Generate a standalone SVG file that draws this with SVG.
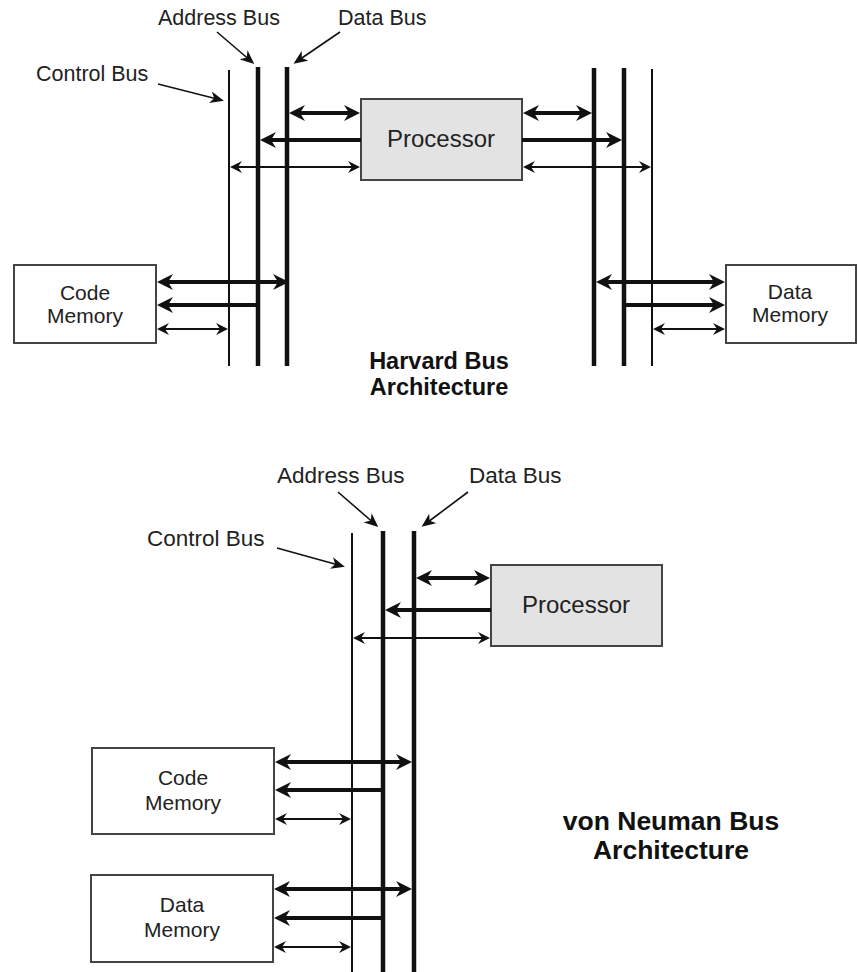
<svg xmlns="http://www.w3.org/2000/svg" width="858" height="972" viewBox="0 0 858 972">
<defs>
<marker id="ah" viewBox="0 0 16 16" refX="12" refY="8" markerWidth="16" markerHeight="16" markerUnits="userSpaceOnUse" orient="auto-start-reverse"><path d="M0,0 L16,8 L0,16 L5,8 z" fill="#111"/></marker>
<marker id="at" viewBox="0 0 12 12" refX="9" refY="6" markerWidth="12" markerHeight="12" markerUnits="userSpaceOnUse" orient="auto-start-reverse"><path d="M0,0 L12,6 L0,12 L4,6 z" fill="#111"/></marker>
<marker id="ac" viewBox="0 0 14 12" refX="11" refY="6" markerWidth="14" markerHeight="12" markerUnits="userSpaceOnUse" orient="auto"><path d="M0,0 L14,6 L0,12 L4,6 z" fill="#111"/></marker>
</defs>
<style>
.bus{stroke:#111;stroke-width:4.5;fill:none}
.busT{stroke:#111;stroke-width:2;fill:none}
.thick{stroke:#111;stroke-width:4;fill:none}
.thin{stroke:#111;stroke-width:2;fill:none}
.call{stroke:#111;stroke-width:1.6;fill:none;marker-end:url(#ac)}
.box{fill:#fff;stroke:#444;stroke-width:2}
.proc{fill:#e3e3e3;stroke:#444;stroke-width:2}
text{font-family:"Liberation Sans",Arial,sans-serif;fill:#222}
.lbl{font-size:21.5px}
.lbl2{font-size:22.5px}
.bt{font-size:21px;text-anchor:middle}
.pt{font-size:24px;text-anchor:middle}
.title{font-size:23.5px;font-weight:bold;text-anchor:middle;fill:#111}
.title2{font-size:26.5px;font-weight:bold;text-anchor:middle;fill:#111}
</style>
<rect width="858" height="972" fill="#fff"/>

<!-- Harvard -->
<g id="harvard-buses">
<line class="busT" x1="229" y1="70" x2="229" y2="366"/>
<line class="bus" x1="258" y1="67" x2="258" y2="366"/>
<line class="bus" x1="287" y1="67" x2="287" y2="366"/>
<line class="bus" x1="594" y1="68" x2="594" y2="366"/>
<line class="bus" x1="624" y1="68" x2="624" y2="366"/>
<line class="busT" x1="652" y1="69" x2="652" y2="366"/>
</g>
<g id="h-processor"><rect class="proc" x="361" y="99" width="161" height="81"/><text class="pt" x="441" y="147">Processor</text></g>
<g id="h-code-memory"><rect class="box" x="14" y="265" width="142" height="78"/><text class="bt" x="85" y="300">Code</text><text class="bt" x="85" y="323">Memory</text></g>
<g id="h-data-memory"><rect class="box" x="726" y="265" width="130" height="78"/><text class="bt" x="790" y="299">Data</text><text class="bt" x="790" y="322">Memory</text></g>
<g id="h-labels">
<text class="lbl" x="158" y="25">Address Bus</text>
<text class="lbl" x="338" y="25">Data Bus</text>
<text class="lbl" x="36" y="81">Control Bus</text>
<text class="title" x="439" y="369">Harvard Bus</text>
<text class="title" x="439" y="395">Architecture</text>
</g>

<!-- von Neuman -->
<g id="vn-buses">
<line class="busT" x1="352" y1="533" x2="352" y2="972"/>
<line class="bus" x1="383" y1="531" x2="383" y2="972"/>
<line class="bus" x1="414" y1="531" x2="414" y2="972"/>
</g>
<g id="vn-processor"><rect class="proc" x="491" y="565" width="171" height="81"/><text class="pt" x="576" y="613">Processor</text></g>
<g id="vn-code-memory"><rect class="box" x="92" y="748" width="182" height="86"/><text class="bt" x="183" y="785">Code</text><text class="bt" x="183" y="810">Memory</text></g>
<g id="vn-data-memory"><rect class="box" x="91" y="875" width="182" height="87"/><text class="bt" x="182" y="912">Data</text><text class="bt" x="182" y="937">Memory</text></g>
<g id="vn-labels">
<text class="lbl2" x="277" y="483">Address Bus</text>
<text class="lbl2" x="469" y="483">Data Bus</text>
<text class="lbl2" x="147" y="546">Control Bus</text>
<text class="title2" x="671" y="830">von Neuman Bus</text>
<text class="title2" x="671" y="859">Architecture</text>
</g>

<g id="connectors">
<!-- Harvard left -->
<line class="thick" x1="293" y1="113" x2="356" y2="113" marker-start="url(#ah)" marker-end="url(#ah)"/>
<line class="thick" x1="361" y1="140" x2="264" y2="140" marker-end="url(#ah)"/>
<line class="thin" x1="233" y1="167" x2="357" y2="167" marker-start="url(#at)" marker-end="url(#at)"/>
<!-- Harvard right -->
<line class="thick" x1="527" y1="113" x2="588" y2="113" marker-start="url(#ah)" marker-end="url(#ah)"/>
<line class="thick" x1="522" y1="140" x2="618" y2="140" marker-end="url(#ah)"/>
<line class="thin" x1="526" y1="167" x2="648" y2="167" marker-start="url(#at)" marker-end="url(#at)"/>
<!-- Code memory -->
<line class="thick" x1="161" y1="282" x2="285" y2="282" marker-start="url(#ah)" marker-end="url(#ah)"/>
<line class="thick" x1="258" y1="305" x2="161" y2="305" marker-end="url(#ah)"/>
<line class="thin" x1="160" y1="329" x2="225" y2="329" marker-start="url(#at)" marker-end="url(#at)"/>
<!-- Data memory -->
<line class="thick" x1="600" y1="282" x2="721" y2="282" marker-start="url(#ah)" marker-end="url(#ah)"/>
<line class="thick" x1="624" y1="305" x2="721" y2="305" marker-end="url(#ah)"/>
<line class="thin" x1="656" y1="329" x2="722" y2="329" marker-start="url(#at)" marker-end="url(#at)"/>
<!-- Harvard callouts -->
<line class="call" x1="217" y1="32" x2="252" y2="62"/>
<line class="call" x1="340" y1="32" x2="296" y2="62"/>
<line class="call" x1="158" y1="84" x2="221" y2="100"/>

<!-- von Neuman processor -->
<line class="thick" x1="420" y1="578" x2="486" y2="578" marker-start="url(#ah)" marker-end="url(#ah)"/>
<line class="thick" x1="491" y1="610" x2="389" y2="610" marker-end="url(#ah)"/>
<line class="thin" x1="356" y1="638" x2="487" y2="638" marker-start="url(#at)" marker-end="url(#at)"/>
<!-- code memory -->
<line class="thick" x1="279" y1="762" x2="408" y2="762" marker-start="url(#ah)" marker-end="url(#ah)"/>
<line class="thick" x1="383" y1="790" x2="279" y2="790" marker-end="url(#ah)"/>
<line class="thin" x1="278" y1="819" x2="348" y2="819" marker-start="url(#at)" marker-end="url(#at)"/>
<!-- data memory -->
<line class="thick" x1="278" y1="889" x2="408" y2="889" marker-start="url(#ah)" marker-end="url(#ah)"/>
<line class="thick" x1="383" y1="918" x2="278" y2="918" marker-end="url(#ah)"/>
<line class="thin" x1="277" y1="947" x2="348" y2="947" marker-start="url(#at)" marker-end="url(#at)"/>
<!-- von Neuman callouts -->
<line class="call" x1="338" y1="492" x2="376" y2="525"/>
<line class="call" x1="468" y1="492" x2="424" y2="525"/>
<line class="call" x1="277" y1="548" x2="342" y2="566"/>
</g>
</svg>
